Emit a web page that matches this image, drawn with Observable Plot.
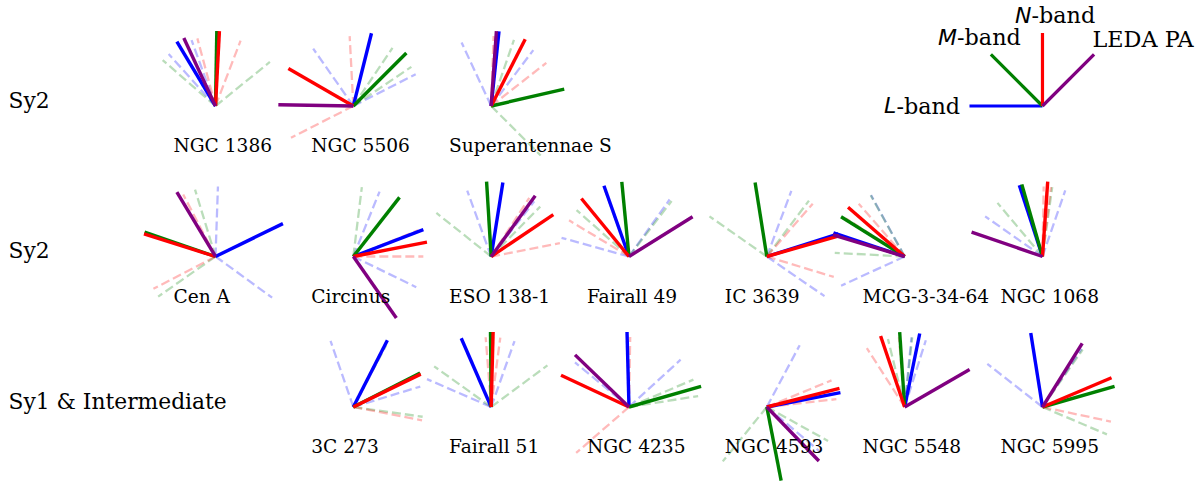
<!DOCTYPE html>
<html><head><meta charset="utf-8">
<script src="https://cdn.jsdelivr.net/npm/d3@7"></script>
<script src="https://cdn.jsdelivr.net/npm/@observablehq/plot@0.6"></script>
<style>html,body{margin:0;padding:0;background:#fff} svg{display:block}</style>
</head><body><div id="chart"></div>
<script>
// ---- data (position angles in degrees, measured from up towards the left) ----
const galaxies = ["NGC 1386","NGC 5506","Superantennae S",
  "Cen A","Circinus","ESO 138-1","Fairall 49","IC 3639","MCG-3-34-64","NGC 1068",
  "3C 273","Fairall 51","NGC 4235","NGC 4593","NGC 5548","NGC 5995"];
const gridRow = [0,0,0, 1,1,1,1,1,1,1, 2,2,2,2,2,2];
const gridCol = [0,1,2, 0,1,2,3,4,5,6, 1,2,3,4,5,6];
const paL   = [31,-14,-6,  -64,-69,-9,19.5,-72.5,71.7,18,  -27,23.5,1.5,-79,-11.6,9];
const errL  = [11,49,31,   62,47,29,55,52,43,37,           46,43,49,51,6,43];
const paM   = [-1,-45,-77, 71,-38,3.5,5.5,9,58,16,         -63,0.5,-74,-169,3.8,-74];
const errM  = [50,11,58,   54,31,48,43,46,29,24,           35,54,7,50,10,39];
const paN   = [-3,60,-27,  72.5,-79,-56,39.4,-74,49,-4,    -64,-1.5,65,-75.6,18.7,-67];
const errN  = [18,57,25,   45,11,23,19.5,33,8,3,           37,6,66,8,14,35];
const paLEDA= [25,89,-4,   31,-145,-36,-58,null,73.2,71,   null,null,46,-136,-60,-32];
const groupLabels = ["Sy2","Sy2","Sy1 & Intermediate"];
const legendBands = ["L","M","N","LEDA PA"];
const legendPA = [90,45,0,-45];
const bandColors = ["#0000ff","#008000","#ff0000","#800080"];

// ---- geometry helpers (grid units -> glyph radius) ----
const W = 1203, H = 485;
const COLW = 137.83, ROWH = 150.5;   // pixels per grid unit
const X0 = 215, Y0 = 105.5;          // first glyph centre
const RS = 75, RD = 70, RLEG = 73;   // radii in pixels
const xDomain = [-X0 / COLW, (W - X0) / COLW];
const yDomain = [(H - Y0) / ROWH, -Y0 / ROWH];
function seg(c, r, pa, R) {
  const t = pa * Math.PI / 180;
  return {x1: c, y1: r, x2: c - R * Math.sin(t) / COLW, y2: r - R * Math.cos(t) / ROWH};
}
const bandPA = [paL, paM, paN, paLEDA];
const bandErr = [errL, errM, errN, null];

const solid = [[],[],[],[]], dashed = [[],[],[],[]];
galaxies.forEach((g, i) => {
  const c = gridCol[i], r = gridRow[i];
  for (let b = 0; b < 4; b++) {
    const pa = bandPA[b][i];
    if (pa == null) continue;
    solid[b].push(seg(c, r, pa, RS));
    if (bandErr[b]) {
      const e = bandErr[b][i];
      dashed[b].push(seg(c, r, pa - e, RD));
      dashed[b].push(seg(c, r, pa + e, RD));
    }
  }
});
const legendSegs = legendPA.map((pa, b) => ({...seg(6, 0, pa, RLEG), b}));

const labels = galaxies.map((g, i) => ({name: g, x: gridCol[i] - 0.305, y: gridRow[i] + 0.268}));
const rowLabs = groupLabels.map((g, r) => ({name: g, x: -1.502, y: r - 0.035}));
// legend text: italic band letter + "-band"
const legItalic = [
  {t: "L", x: 6 - 1.060, y: 0.003},
  {t: "M", x: 6 - 0.620, y: -0.455},
  {t: "N", x: 6 - 0.080, y: -0.601}
];
const legPlain = [
  {t: "-band", x: 6 - 1.060, y: 0.003},
  {t: "-band", x: 6 - 0.620, y: -0.455},
  {t: "-band", x: 6 - 0.080, y: -0.601},
  {t: legendBands[3], x: 6 + 0.363, y: -0.442}
];

const marks = [];
for (let b = 0; b < 3; b++) {
  marks.push(Plot.link(dashed[b], {x1: "x1", y1: "y1", x2: "x2", y2: "y2",
    stroke: bandColors[b], strokeOpacity: 0.27, strokeWidth: 2.3, strokeDasharray: "9,4", strokeLinecap: "butt"}));
}
for (let b = 0; b < 4; b++) {
  marks.push(Plot.link(solid[b], {x1: "x1", y1: "y1", x2: "x2", y2: "y2",
    stroke: bandColors[b], strokeWidth: 3.4, strokeLinecap: "butt"}));
}
for (let b = 0; b < 4; b++) {
  marks.push(Plot.link(legendSegs.filter(d => d.b === b), {x1: "x1", y1: "y1", x2: "x2", y2: "y2",
    stroke: bandColors[b], strokeWidth: 3.2, strokeLinecap: "butt"}));
}
marks.push(Plot.text(labels, {x: "x", y: "y", text: "name", textAnchor: "start",
  fontFamily: "DejaVu Serif", fontSize: 18.6, fill: "#000"}));
marks.push(Plot.text(rowLabs, {x: "x", y: "y", text: "name", textAnchor: "start",
  fontFamily: "DejaVu Serif", fontSize: 21.8, fill: "#000"}));
marks.push(Plot.text(legItalic, {x: "x", y: "y", text: "t", textAnchor: "end",
  fontFamily: "DejaVu Sans", fontStyle: "italic", fontSize: 22, fill: "#000"}));
marks.push(Plot.text(legPlain, {x: "x", y: "y", text: "t", textAnchor: "start",
  fontFamily: "DejaVu Serif", fontSize: 22.3, fill: "#000"}));

const chart = Plot.plot({
  width: W, height: H,
  margin: 0, marginTop: 0, marginRight: 0, marginBottom: 0, marginLeft: 0,
  x: {domain: xDomain, axis: null},
  y: {domain: yDomain, axis: null},
  style: {background: "#fff", overflow: "visible"},
  marks
});
document.getElementById("chart").appendChild(chart);
</script>
</body></html>
